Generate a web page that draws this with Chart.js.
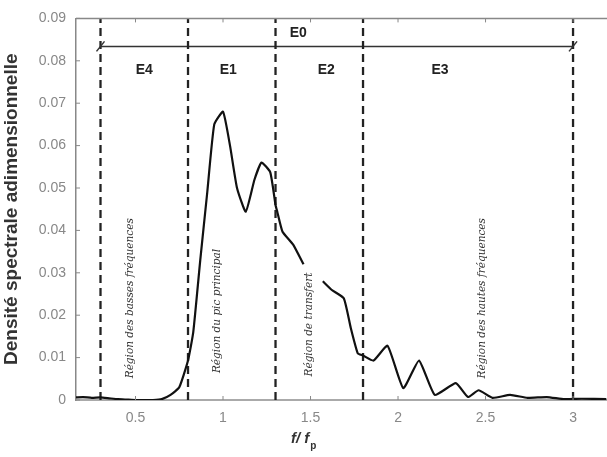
<!DOCTYPE html>
<html>
<head>
<meta charset="utf-8">
<script src="https://cdn.jsdelivr.net/npm/chart.js@4/dist/chart.umd.min.js"></script>
<style>
  html, body { margin: 0; padding: 0; background: #fff; overflow: hidden; }
  #wrap { width: 607px; height: 457px; position: relative; }
</style>
</head>
<body>
<div id="wrap"><canvas id="c"></canvas></div>
<script>
"use strict";
// spectrum f/fp -> dimensionless density (null = gap in the curve)
const freq = [0.16, 0.2, 0.25, 0.3, 0.35, 0.4, 0.45, 0.5, 0.55, 0.6, 0.65, 0.7, 0.75, 0.8, 0.83, 0.87, 0.91, 0.95, 1.0, 1.04, 1.08, 1.13, 1.18, 1.22, 1.27, 1.3, 1.31, 1.34, 1.4, 1.46, 1.51, 1.57, 1.62, 1.69, 1.73, 1.77, 1.8, 1.86, 1.94, 2.03, 2.12, 2.21, 2.33, 2.4, 2.46, 2.54, 2.64, 2.74, 2.85, 2.95, 3.05, 3.19];
const density = [0.0006, 0.0007, 0.0005, 0.0006, 0.0004, 0.0002, 0.0001, 0, 0, 0, 0.0002, 0.0012, 0.003, 0.0093, 0.016, 0.033, 0.049, 0.065, 0.068, 0.06, 0.05, 0.0444, 0.052, 0.056, 0.0537, 0.046, 0.0444, 0.0397, 0.0367, 0.032, null, 0.028, 0.026, 0.024, 0.017, 0.011, 0.0105, 0.0093, 0.0128, 0.0028, 0.0093, 0.0012, 0.004, 0.0007, 0.0023, 0.0005, 0.0012, 0.0005, 0.0007, 0.0002, 0.0003, 0.0002];

// region boundaries (dashed verticals) and labels
const bounds = [0.3, 0.8, 1.3, 1.8, 3.0];
const regionNames = ["E4", "E1", "E2", "E3"];
const regionX = [0.55, 1.03, 1.59, 2.24];
const regionTexts = ["Région des basses fréquences", "Région du pic principal", "Région de transfert", "Région des hautes fréquences"];
const regionTextX = [0.47, 0.97, 1.49, 2.48];
const regionTextY = [0.024, 0.021, 0.0178, 0.024];
const e0Level = 0.0834;

const xTicks = [0.5, 1, 1.5, 2, 2.5, 3];
const yTicks = [0, 0.01, 0.02, 0.03, 0.04, 0.05, 0.06, 0.07, 0.08, 0.09];

const datasets = [{
  data: freq.map((f, i) => ({ x: f, y: density[i] })),
  borderColor: "#111", borderWidth: 2.2, pointRadius: 0, tension: 0.15, spanGaps: false
}];
bounds.forEach(b => datasets.push({
  data: [{ x: b, y: 0 }, { x: b, y: 0.09 }],
  borderColor: "#222", borderWidth: 2.3, borderDash: [8, 5], pointRadius: 0
}));
datasets.push({
  data: [{ x: bounds[0], y: e0Level }, { x: bounds[bounds.length - 1], y: e0Level }],
  borderColor: "#333", borderWidth: 1.5, pointRadius: 0
});

const decor = {
  id: "decor",
  afterDatasetsDraw(chart) {
    const { ctx, chartArea: a, scales: { x, y } } = chart;
    ctx.save();
    // frame top line
    ctx.strokeStyle = "#888"; ctx.lineWidth = 1.5;
    ctx.beginPath(); ctx.moveTo(a.left, a.top); ctx.lineTo(a.right, a.top); ctx.stroke();
    // inward ticks
    ctx.lineWidth = 1; ctx.strokeStyle = "#888";
    xTicks.forEach(t => {
      const px = x.getPixelForValue(t);
      ctx.beginPath();
      ctx.moveTo(px, a.bottom); ctx.lineTo(px, a.bottom - 4);
      ctx.moveTo(px, a.top); ctx.lineTo(px, a.top + 4);
      ctx.stroke();
    });
    yTicks.forEach(t => {
      const py = y.getPixelForValue(t);
      ctx.beginPath(); ctx.moveTo(a.left, py); ctx.lineTo(a.left + 4, py); ctx.stroke();
    });
    // E0 end slashes
    ctx.strokeStyle = "#333"; ctx.lineWidth = 1.5;
    const ey = y.getPixelForValue(e0Level);
    [bounds[0], bounds[bounds.length - 1]].forEach(b => {
      const px = x.getPixelForValue(b);
      ctx.beginPath(); ctx.moveTo(px - 4, ey + 5); ctx.lineTo(px + 4, ey - 5); ctx.stroke();
    });
    // labels
    ctx.fillStyle = "#222";
    ctx.font = "bold 14px 'Liberation Sans', Arial, sans-serif";
    ctx.textAlign = "center"; ctx.textBaseline = "middle";
    ctx.fillText("E0", x.getPixelForValue(1.43), y.getPixelForValue(0.0865));
    regionNames.forEach((n, i) => ctx.fillText(n, x.getPixelForValue(regionX[i]), y.getPixelForValue(0.0778)));
    ctx.font = "italic 10.5px 'DejaVu Serif', serif";
    regionTexts.forEach((t, i) => {
      ctx.save();
      ctx.translate(x.getPixelForValue(regionTextX[i]), y.getPixelForValue(regionTextY[i]));
      ctx.rotate(-Math.PI / 2);
      ctx.fillStyle = "#333";
      ctx.fillText(t, 0, 0);
      ctx.restore();
    });
    // x title f/ f_p
    ctx.fillStyle = "#333";
    ctx.font = "bold italic 15px 'Liberation Sans', Arial, sans-serif";
    ctx.textAlign = "left"; ctx.textBaseline = "alphabetic";
    const tx = 291, ty = 443;
    ctx.fillText("f/ f", tx, ty);
    const w = ctx.measureText("f/ f").width;
    ctx.font = "bold 10px 'Liberation Sans', Arial, sans-serif";
    ctx.fillText("p", tx + w + 1, ty + 6);
    ctx.restore();
  }
};

new Chart(document.getElementById("c"), {
  type: "line",
  data: { datasets },
  options: {
    responsive: true, maintainAspectRatio: false, animation: false,
    layout: { padding: { top: 15, right: 0, left: 0, bottom: 0 } },
    plugins: { legend: { display: false }, tooltip: { enabled: false } },
    scales: {
      x: {
        type: "linear", min: 0.16, max: 3.194,
        afterBuildTicks: s => { s.ticks = xTicks.map(v => ({ value: v })); },
        afterFit: s => { s.height = 57; },
        grid: { display: false, drawTicks: false },
        border: { color: "#aaa", width: 2 },
        ticks: {
          color: "#888", font: { size: 14, family: "'Liberation Sans', Arial" }, padding: 10, maxRotation: 0,
          callback: v => String(v)
        }
      },
      y: {
        min: 0, max: 0.09,
        afterBuildTicks: s => { s.ticks = yTicks.map(v => ({ value: v })); },
        afterFit: s => { s.width = 76; },
        grid: { display: false, drawTicks: false },
        border: { color: "#888", width: 1.5 },
        ticks: {
          color: "#888", font: { size: 14, family: "'Liberation Sans', Arial" }, padding: 10,
          callback: v => v === 0 ? "0" : v.toFixed(2)
        },
        title: {
          display: true, text: "Densité spectrale adimensionnelle", color: "#333",
          font: { size: 19, weight: "bold", family: "'Liberation Sans', Arial" }, padding: { top: 0, bottom: 0 }
        }
      }
    }
  },
  plugins: [decor]
});
</script>
</body>
</html>
